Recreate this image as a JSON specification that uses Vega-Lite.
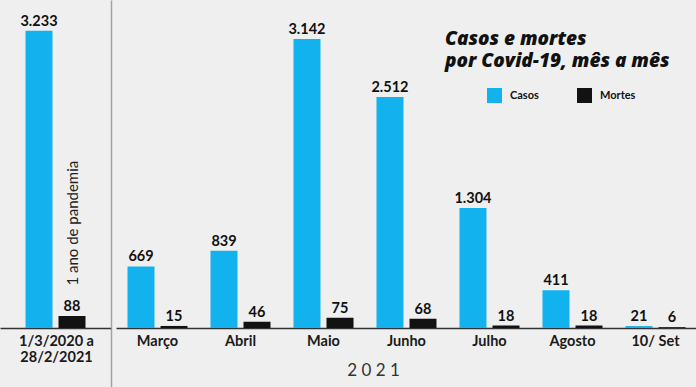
{
  "$schema": "https://vega.github.io/schema/vega-lite/v6.json",
  "background": "#efefef",
  "padding": 0,
  "spacing": 4,
  "datasets": {
    "dados": [
      {"periodo": "1/3/2020 a 28/2/2021", "grupo": "pandemia", "serie": "Casos", "valor": 3233},
      {"periodo": "1/3/2020 a 28/2/2021", "grupo": "pandemia", "serie": "Mortes", "valor": 88},
      {"periodo": "Março", "grupo": "2021", "serie": "Casos", "valor": 669},
      {"periodo": "Março", "grupo": "2021", "serie": "Mortes", "valor": 15},
      {"periodo": "Abril", "grupo": "2021", "serie": "Casos", "valor": 839},
      {"periodo": "Abril", "grupo": "2021", "serie": "Mortes", "valor": 46},
      {"periodo": "Maio", "grupo": "2021", "serie": "Casos", "valor": 3142},
      {"periodo": "Maio", "grupo": "2021", "serie": "Mortes", "valor": 75},
      {"periodo": "Junho", "grupo": "2021", "serie": "Casos", "valor": 2512},
      {"periodo": "Junho", "grupo": "2021", "serie": "Mortes", "valor": 68},
      {"periodo": "Julho", "grupo": "2021", "serie": "Casos", "valor": 1304},
      {"periodo": "Julho", "grupo": "2021", "serie": "Mortes", "valor": 18},
      {"periodo": "Agosto", "grupo": "2021", "serie": "Casos", "valor": 411},
      {"periodo": "Agosto", "grupo": "2021", "serie": "Mortes", "valor": 18},
      {"periodo": "10/ Set", "grupo": "2021", "serie": "Casos", "valor": 21},
      {"periodo": "10/ Set", "grupo": "2021", "serie": "Mortes", "valor": 6}
    ],
    "notas": [
      {"texto": "1 ano de pandemia"}
    ],
    "titulo": [
      {"texto": "Casos e mortes\npor Covid-19, mês a mês"}
    ]
  },
  "resolve": {
    "scale": {"x": "independent", "y": "independent", "xOffset": "independent", "color": "shared"},
    "legend": {"color": "shared"}
  },
  "config": {
    "font": "Lato",
    "view": {"stroke": null},
    "locale": {"number": {"decimal": ",", "thousands": ".", "grouping": [3], "currency": ["R$", ""]}},
    "axis": {"labelFont": "Lato", "titleFont": "Lato"},
    "bar": {"stroke": null},
    "legend": {
      "symbolType": "square",
      "symbolSize": 225,
      "symbolStrokeWidth": 0,
      "symbolOpacity": 1,
      "labelFont": "Lato",
      "labelFontWeight": "bold",
      "labelFontSize": 11,
      "labelColor": "#111111",
      "labelOffset": 8,
      "columnPadding": 38
    }
  },
  "hconcat": [
    {
      "width": 111,
      "height": 328,
      "resolve": {"scale": {"y": "independent"}},
      "layer": [
        {
          "data": {"name": "dados"},
          "transform": [{"filter": "datum.grupo === 'pandemia' && datum.serie === 'Casos'"}],
          "encoding": {
            "x": {
              "field": "periodo", "type": "nominal", "sort": null,
              "scale": {"paddingInner": 0, "paddingOuter": 0},
              "axis": {
                "title": null, "labelAngle": 0,
                "labelFontWeight": "bold", "labelFontSize": 14.5, "labelColor": "#1a1a1a",
                "labelExpr": "[slice(datum.label, 0, 10), slice(datum.label, 11)]",
                "labelLineHeight": 16,
                "domainColor": "#333333", "domainWidth": 1.5,
                "ticks": true, "tickSize": 59, "tickColor": "#a3a3a3", "tickWidth": 1.5,
                "bandPosition": 1, "labelOffset": 1, "labelPadding": -53
              }
            },
            "xOffset": {
              "field": "serie", "type": "nominal",
              "scale": {"domain": ["Casos", "Mortes"], "paddingInner": 0.1818, "paddingOuter": 0.773}
            },
            "y": {
              "field": "valor", "type": "quantitative",
              "scale": {"domain": [0, 3566], "nice": false, "zero": true},
              "axis": {"orient": "right", "domain": true, "domainColor": "#a3a3a3", "domainWidth": 1.5, "ticks": false, "labels": false, "grid": false, "title": null}
            }
          },
          "layer": [
            {
              "mark": {"type": "bar"},
              "encoding": {
                "color": {
                  "field": "serie", "type": "nominal",
                  "scale": {"domain": ["Casos", "Mortes"], "range": ["#12b2ee", "#121212"]},
                  "legend": {"title": null, "orient": "none", "legendX": 487, "legendY": 88, "direction": "horizontal"}
                }
              }
            },
            {
              "mark": {"type": "text", "fontWeight": "bold", "fontSize": 14.5, "color": "#111111", "baseline": "alphabetic", "dy": -5},
              "encoding": {"text": {"field": "valor", "type": "quantitative", "format": ",d"}}
            }
          ]
        },
        {
          "data": {"name": "dados"},
          "transform": [{"filter": "datum.grupo === 'pandemia' && datum.serie === 'Mortes'"}],
          "encoding": {
            "x": {"field": "periodo", "type": "nominal", "sort": null},
            "xOffset": {"field": "serie", "type": "nominal"},
            "y": {
              "field": "valor", "type": "quantitative",
              "scale": {"domain": [0, 2400], "nice": false, "zero": true},
              "axis": null
            }
          },
          "layer": [
            {
              "mark": {"type": "bar"},
              "encoding": {
                "color": {
                  "field": "serie", "type": "nominal",
                  "scale": {"domain": ["Casos", "Mortes"], "range": ["#12b2ee", "#121212"]},
                  "legend": {"title": null, "orient": "none", "legendX": 487, "legendY": 88, "direction": "horizontal"}
                }
              }
            },
            {
              "mark": {"type": "text", "fontWeight": "bold", "fontSize": 14.5, "color": "#111111", "baseline": "alphabetic", "dy": -5},
              "encoding": {"text": {"field": "valor", "type": "quantitative", "format": ",d"}}
            }
          ]
        },
        {
          "data": {"name": "notas"},
          "mark": {"type": "text", "angle": 270, "fontSize": 15, "color": "#222222", "align": "center", "baseline": "middle", "dy": 17},
          "encoding": {
            "x": {"datum": "1/3/2020 a 28/2/2021", "type": "nominal"},
            "y": {"datum": 1140, "type": "quantitative", "scale": {"domain": [0, 3566], "nice": false, "zero": true}, "axis": null},
            "text": {"field": "texto", "type": "nominal"}
          }
        }
      ]
    },
    {
      "width": 581,
      "height": 328,
      "resolve": {"scale": {"y": "independent"}},
      "layer": [
        {
          "data": {"name": "dados"},
          "transform": [{"filter": "datum.grupo === '2021' && datum.serie === 'Casos'"}],
          "encoding": {
            "x": {
              "field": "periodo", "type": "nominal", "sort": null,
              "scale": {"paddingInner": 0, "paddingOuter": 0},
              "axis": {
                "title": "2 0 2 1", "labelAngle": 0,
                "labelFontWeight": "bold", "labelFontSize": 14.5, "labelColor": "#1a1a1a",
                "domainColor": "#333333", "domainWidth": 1.5,
                "ticks": false, "labelPadding": 6,
                "titleFontWeight": "normal", "titleFontSize": 17, "titleColor": "#333333",
                "titleX": 257, "titleY": 42, "titleBaseline": "middle", "titleAlign": "center"
              }
            },
            "xOffset": {
              "field": "serie", "type": "nominal",
              "scale": {"domain": ["Casos", "Mortes"], "paddingInner": 0.1818, "paddingOuter": 0.348}
            },
            "y": {
              "field": "valor", "type": "quantitative",
              "scale": {"domain": [0, 3566], "nice": false, "zero": true},
              "axis": null
            }
          },
          "layer": [
            {
              "mark": {"type": "bar"},
              "encoding": {
                "color": {
                  "field": "serie", "type": "nominal",
                  "scale": {"domain": ["Casos", "Mortes"], "range": ["#12b2ee", "#121212"]},
                  "legend": {"title": null, "orient": "none", "legendX": 487, "legendY": 88, "direction": "horizontal"}
                }
              }
            },
            {
              "mark": {"type": "text", "fontWeight": "bold", "fontSize": 14.5, "color": "#111111", "baseline": "alphabetic", "dy": -5},
              "encoding": {"text": {"field": "valor", "type": "quantitative", "format": ",d"}}
            }
          ]
        },
        {
          "data": {"name": "dados"},
          "transform": [{"filter": "datum.grupo === '2021' && datum.serie === 'Mortes'"}],
          "encoding": {
            "x": {"field": "periodo", "type": "nominal", "sort": null},
            "xOffset": {"field": "serie", "type": "nominal"},
            "y": {
              "field": "valor", "type": "quantitative",
              "scale": {"domain": [0, 2400], "nice": false, "zero": true},
              "axis": null
            }
          },
          "layer": [
            {
              "mark": {"type": "bar"},
              "encoding": {
                "color": {
                  "field": "serie", "type": "nominal",
                  "scale": {"domain": ["Casos", "Mortes"], "range": ["#12b2ee", "#121212"]},
                  "legend": {"title": null, "orient": "none", "legendX": 487, "legendY": 88, "direction": "horizontal"}
                }
              }
            },
            {
              "mark": {"type": "text", "fontWeight": "bold", "fontSize": 14.5, "color": "#111111", "baseline": "alphabetic", "dy": -5},
              "encoding": {"text": {"field": "valor", "type": "quantitative", "format": ",d"}}
            }
          ]
        },
        {
          "data": {"name": "titulo"},
          "mark": {"type": "text", "font": "Open Sans", "fontSize": 19, "fontWeight": 800, "fontStyle": "italic", "color": "#111111", "align": "left", "baseline": "top", "lineBreak": "\n", "lineHeight": 22, "dx": -44.5},
          "encoding": {
            "x": {"datum": "Julho", "type": "nominal"},
            "y": {"datum": 3240, "type": "quantitative", "scale": {"domain": [0, 3566], "nice": false, "zero": true}, "axis": null},
            "text": {"field": "texto", "type": "nominal"}
          }
        }
      ]
    }
  ]
}
